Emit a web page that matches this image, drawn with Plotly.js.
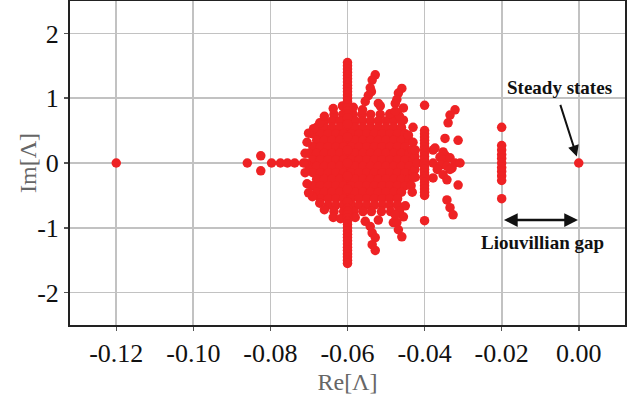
<!DOCTYPE html>
<html>
<head>
<meta charset="utf-8">
<script src="https://cdn.plot.ly/plotly-3.0.1.min.js"></script>
<style>html,body{margin:0;padding:0;background:#fff;}#chart{width:644px;height:401px;}</style>
</head>
<body>
<div id="chart"></div>
<script>
// ---- data (Re, Im of Liouvillian eigenvalues) ----
const xTickVals = [-0.12, -0.10, -0.08, -0.06, -0.04, -0.02, 0.00];
const xTickText = ["-0.12", "-0.10", "-0.08", "-0.06", "-0.04", "-0.02", "0.00"];
const yTickVals = [-2, -1, 0, 1, 2];
const yTickText = ["-2", "-1", "0", "1", "2"];

// dense central cluster, row by row (Im value of row, Re values in row)
const coreRowIm = [0.75, 0.65, 0.55, 0.45, 0.35, 0.25, 0.15, 0.05, -0.05, -0.15, -0.25, -0.35, -0.45, -0.55, -0.65, -0.75];
const coreRowRe = [
  [-0.0635, -0.0612, -0.0585, -0.0562, -0.0540, -0.0515, -0.0490, -0.0470],
  [-0.066, -0.064, -0.062, -0.060, -0.058, -0.056, -0.054, -0.052, -0.050, -0.048, -0.046],
  [-0.068, -0.066, -0.064, -0.062, -0.060, -0.058, -0.056, -0.054, -0.052, -0.050, -0.048, -0.046],
  [-0.069, -0.067, -0.065, -0.063, -0.061, -0.059, -0.057, -0.055, -0.053, -0.051, -0.049, -0.047, -0.045],
  [-0.068, -0.066, -0.064, -0.062, -0.060, -0.058, -0.056, -0.054, -0.052, -0.050, -0.048, -0.046, -0.044],
  [-0.069, -0.067, -0.065, -0.063, -0.061, -0.059, -0.057, -0.055, -0.053, -0.051, -0.049, -0.047, -0.045],
  [-0.070, -0.068, -0.066, -0.064, -0.062, -0.060, -0.058, -0.056, -0.054, -0.052, -0.050, -0.048, -0.046, -0.044],
  [-0.069, -0.067, -0.065, -0.063, -0.061, -0.059, -0.057, -0.055, -0.053, -0.051, -0.049, -0.047, -0.045, -0.043],
  [-0.070, -0.068, -0.066, -0.064, -0.062, -0.060, -0.058, -0.056, -0.054, -0.052, -0.050, -0.048, -0.046, -0.044],
  [-0.069, -0.067, -0.065, -0.063, -0.061, -0.059, -0.057, -0.055, -0.053, -0.051, -0.049, -0.047, -0.045, -0.043],
  [-0.068, -0.066, -0.064, -0.062, -0.060, -0.058, -0.056, -0.054, -0.052, -0.050, -0.048, -0.046, -0.044],
  [-0.069, -0.067, -0.065, -0.063, -0.061, -0.059, -0.057, -0.055, -0.053, -0.051, -0.049, -0.047, -0.045],
  [-0.068, -0.066, -0.064, -0.062, -0.060, -0.058, -0.056, -0.054, -0.052, -0.050, -0.048, -0.046],
  [-0.067, -0.065, -0.063, -0.061, -0.059, -0.057, -0.055, -0.053, -0.051, -0.049, -0.047],
  [-0.065, -0.063, -0.061, -0.059, -0.057, -0.055, -0.053, -0.051, -0.049, -0.047],
  [-0.0635, -0.0610, -0.0583, -0.0560, -0.0538, -0.0512, -0.0488]
];

// scattered points around the central cluster [Re, Im]
const haloPts = [
  [-0.0637, 0.84], [-0.0613, 0.88], [-0.0561, 0.82], [-0.0515, 0.88], [-0.0490, 0.76], [-0.0455, 0.66],
  [-0.0442, 0.43], [-0.0432, 0.20], [-0.0430, 0.55], [-0.0425, 0.10], [-0.0425, -0.10], [-0.0430, 0.32],
  [-0.0435, -0.35], [-0.0672, 0.62], [-0.0688, 0.53], [-0.0701, 0.46], [-0.0709, 0.00], [-0.0710, 0.15],
  [-0.0710, -0.15], [-0.0705, 0.32], [-0.0705, -0.32], [-0.0691, -0.52], [-0.0701, -0.46], [-0.0672, -0.62],
  [-0.0419, 0.00], [-0.0429, -0.22], [-0.0432, -0.45], [-0.0450, -0.66], [-0.0455, -0.83], [-0.0637, -0.84],
  [-0.0618, -0.86], [-0.0554, -0.90], [-0.0520, -0.88], [-0.0481, -0.92], [-0.0580, -0.84], [-0.0585, 0.86],
  [-0.0660, 0.72], [-0.0660, -0.72], [-0.0465, 0.72], [-0.0465, -0.74]
];

// arms reaching to large |Im|
const chainPts = [
  [-0.0528, 1.36], [-0.0536, 1.28], [-0.0541, 1.16], [-0.0538, 1.10], [-0.0546, 1.04], [-0.0554, 0.95], [-0.0520, 0.92],
  [-0.0459, 1.15], [-0.0468, 1.08], [-0.0472, 0.98], [-0.0476, 0.92], [-0.0455, 0.85], [-0.0476, 0.80],
  [-0.0541, -0.98], [-0.0536, -1.08], [-0.0528, -1.15], [-0.0536, -1.26], [-0.0528, -1.35],
  [-0.0472, -0.92], [-0.0468, -1.03], [-0.0459, -1.14], [-0.0476, -0.80]
];

// isolated points on the far left
const tailPts = [
  [-0.1200, 0.00], [-0.0860, 0.00], [-0.0825, 0.11], [-0.0825, -0.12], [-0.0797, 0.00],
  [-0.0774, 0.00], [-0.0756, 0.00], [-0.0737, 0.00], [-0.0714, 0.00]
];

// vertical stripe at Re = -0.06
const col06Re = -0.06;
const col06Im = [1.55, 1.50, 1.45, 1.40, 1.35, 1.30, 1.25, 1.20, 1.15, 1.10, 1.05, 1.00, 0.95, 0.90, 0.85, 0.80, 0.75, 0.70,
  0.60, 0.40, 0.20, 0.00, -0.20, -0.40, -0.60, -0.70, -0.75, -0.80, -0.85, -0.90, -0.95, -1.00, -1.05, -1.10,
  -1.15, -1.20, -1.25, -1.30, -1.35, -1.40, -1.45, -1.50, -1.55];

// vertical stripe at Re = -0.04
const col04Re = -0.04;
const col04Im = [0.89, 0.50, 0.45, 0.40, 0.35, 0.30, 0.25, 0.20, 0.15, 0.10, 0.05, 0.00, -0.05, -0.10, -0.15,
  -0.20, -0.25, -0.30, -0.35, -0.40, -0.45, -0.50, -0.89];

// group near Re = -0.034
const group034Pts = [
  [-0.0424, 0.20], [-0.0424, -0.22], [-0.0378, 0.20], [-0.0378, -0.23],
  [-0.0321, 0.82], [-0.0334, 0.74], [-0.0339, 0.62], [-0.0347, 0.38], [-0.0313, 0.35], [-0.0373, 0.23],
  [-0.0352, 0.17], [-0.0347, 0.12], [-0.0360, 0.09], [-0.0352, 0.05], [-0.0334, 0.08], [-0.0321, 0.00],
  [-0.0308, 0.00], [-0.0378, 0.00], [-0.0357, -0.03], [-0.0342, -0.05], [-0.0329, -0.08], [-0.0367, -0.10],
  [-0.0334, -0.10], [-0.0352, -0.18], [-0.0342, -0.26], [-0.0313, -0.34], [-0.0342, -0.57], [-0.0334, -0.69],
  [-0.0326, -0.80]
];

// stripe at Re = -0.02 (gap) and the steady state
const col02Re = -0.02;
const col02Im = [0.55, 0.27, 0.20, 0.13, 0.07, 0.00, -0.07, -0.13, -0.20, -0.27, -0.55];
const steadyPts = [[0.0, 0.0]];

// ---- build one point list ----
const xs = [], ys = [];
coreRowIm.forEach((im, i) => coreRowRe[i].forEach(re => { xs.push(re); ys.push(im); }));
[haloPts, chainPts, tailPts, group034Pts, steadyPts].forEach(g => g.forEach(p => { xs.push(p[0]); ys.push(p[1]); }));
col06Im.forEach(im => { xs.push(col06Re); ys.push(im); });
col04Im.forEach(im => { xs.push(col04Re); ys.push(im); });
col02Im.forEach(im => { xs.push(col02Re); ys.push(im); });

const serif = "'Liberation Serif', 'DejaVu Serif', serif";
const red = "rgb(238,34,36)";

const trace = {
  type: "scatter", mode: "markers", x: xs, y: ys,
  marker: { color: red, size: 9.5, line: { width: 0 } },
  hoverinfo: "skip", showlegend: false
};

const axisCommon = {
  showgrid: true, gridcolor: "#c2c2c2", gridwidth: 1.7, zeroline: false,
  showline: true, mirror: true, linecolor: "#222", linewidth: 2,
  ticks: "outside", ticklen: 4, tickwidth: 1.5, tickcolor: "#555",
  tickfont: { family: serif, size: 26, color: "#111" }
};

const layout = {
  width: 644, height: 401,
  margin: { l: 70, r: 19, t: 1, b: 76 },
  paper_bgcolor: "#fff", plot_bgcolor: "#fff",
  font: { family: serif },
  xaxis: Object.assign({}, axisCommon, {
    range: [-0.132, 0.012], tickvals: xTickVals, ticktext: xTickText,
    title: { text: "Re[Λ]", font: { family: serif, size: 24, color: "#666" }, standoff: 6 }
  }),
  yaxis: Object.assign({}, axisCommon, {
    range: [-2.5, 2.5], tickvals: yTickVals, ticktext: yTickText
  }),
  annotations: [
    { x: -0.0757, y: 0.5, xref: "paper", yref: "paper", text: "Im[Λ]", textangle: -90, showarrow: false,
      font: { family: serif, size: 24, color: "#666" }, xanchor: "center", yanchor: "middle" },
    { x: -0.0049, y: 1.17, xref: "x", yref: "y", text: "<b>Steady states</b>", showarrow: false,
      font: { family: serif, size: 19, color: "#111" }, xanchor: "center", yanchor: "middle" },
    { x: -0.0005, y: 0.10, ax: -0.0049, ay: 0.92, xref: "x", yref: "y", axref: "x", ayref: "y",
      text: "", showarrow: true, arrowhead: 2, arrowsize: 1.1, arrowwidth: 2, arrowcolor: "#111" },
    { x: -0.0002, y: -0.88, ax: -0.0198, ay: -0.88, xref: "x", yref: "y", axref: "x", ayref: "y",
      text: "", showarrow: true, arrowside: "end+start", arrowhead: 2, startarrowhead: 2,
      arrowsize: 1.1, startarrowsize: 1.1, arrowwidth: 2.5, arrowcolor: "#111" },
    { x: -0.0093, y: -1.22, xref: "x", yref: "y", text: "<b>Liouvillian gap</b>", showarrow: false,
      font: { family: serif, size: 19, color: "#111" }, xanchor: "center", yanchor: "middle" }
  ]
};

Plotly.newPlot("chart", [trace], layout, { displayModeBar: false, staticPlot: true });
</script>
</body>
</html>
